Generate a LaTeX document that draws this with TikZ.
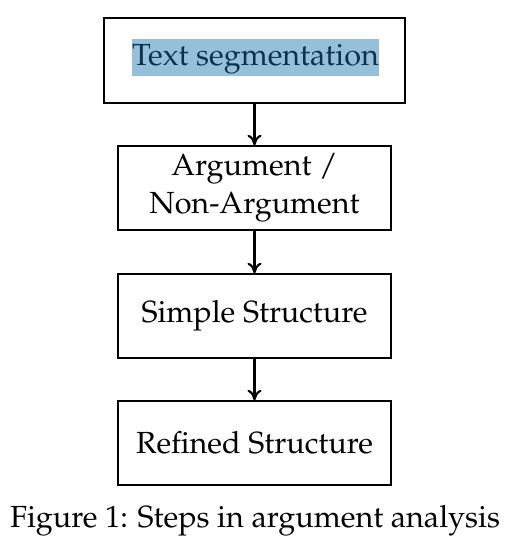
\documentclass[tikz,border=0pt]{standalone}
\usepackage[T1]{fontenc}
\usepackage{mathpazo}
\usepackage{tikz}
\usetikzlibrary{arrows.meta, positioning}
\usepackage{xcolor}
\definecolor{hlblue}{RGB}{150,192,218}
\definecolor{hltext}{RGB}{13,50,80}
\tikzset{
  stepbox/.style={rectangle, draw=black, line width=0.8pt, fill=white,
                  minimum width=#1, minimum height=1.68cm, align=center,
                  inner sep=0pt},
  stepbox/.default=5.46cm,
  hlbox/.style={rectangle, fill=hlblue, text=hltext, inner sep=0pt,
                minimum height=0.74cm, text depth=0.12cm},
  arr/.style={-{To[length=6pt, width=8pt]}, line width=1.2pt, black},
}
\begin{document}
\begin{tikzpicture}[every node/.style={font=\fontsize{17.4}{21.5}\selectfont}]
  \useasboundingbox (0,0) rectangle (10.22,-11);

  % first step, a bit wider, with highlighted text
  \node[stepbox=6.02cm, minimum height=1.70cm] (seg) at (5.09,-1.21) {};
  \node[hlbox] (segtext) at (5.11,-1.15) {Text segmentation};

  % remaining steps
  \node[stepbox] (argnon) at (5.09,-3.76) {Argument /\\Non-Argument};
  \node[stepbox] (simple) at (5.09,-6.32) {Simple Structure};
  \node[stepbox] (refined) at (5.09,-8.86) {Refined Structure};

  % caption
  \node (caption) at (5.1,-10.42) {Figure 1: Steps in argument analysis};

  % Arrows
  \draw[arr] (seg.south) -- (argnon.north);
  \draw[arr] (argnon.south) -- (simple.north);
  \draw[arr] (simple.south) -- (refined.north);
\end{tikzpicture}
\end{document}
